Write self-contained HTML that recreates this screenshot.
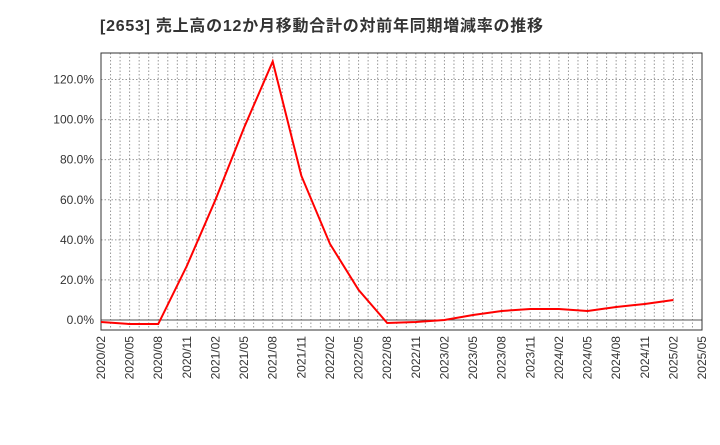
<!DOCTYPE html>
<html><head><meta charset="utf-8"><style>
body{margin:0;background:#fff;width:720px;height:440px;overflow:hidden}
text{font-family:"Liberation Sans","Noto Sans CJK JP",sans-serif}
</style></head><body>
<svg id="c" width="720" height="440">
<text x="100" y="31" font-size="16" font-weight="bold" fill="#333" textLength="443">[2653]  売上高の12か月移動合計の対前年同期増減率の推移</text>
</svg>
<script>
const tickLabels=["2020/02","2020/05","2020/08","2020/11","2021/02","2021/05","2021/08","2021/11","2022/02","2022/05","2022/08","2022/11","2023/02","2023/05","2023/08","2023/11","2024/02","2024/05","2024/08","2024/11","2025/02","2025/05"];
const yTicks=[0,20,40,60,80,100,120];
const values=[-1,-2,-2,27,60,96,129,72,38,15,-1.5,-1,0,2.5,4.5,5.5,5.5,4.5,6.5,8,10];
const L=101,R=702,T=53,B=330;
const x=i=>L+(R-L)*i/63;
const y=v=>320-(v)*(320-79.5)/120;
const s=document.getElementById('c');const NS='http://www.w3.org/2000/svg';
function mk(t,a,p){const e=document.createElementNS(NS,t);for(const k in a)e.setAttribute(k,a[k]);(p||s).appendChild(e);return e;}
for(let m=1;m<63;m++){const g=mk('line',{x1:x(m),x2:x(m),y1:T,y2:B,stroke:'#999','stroke-dasharray':'1.5,2','stroke-width':1});

}
yTicks.forEach(v=>{const g=mk('line',{x1:L,x2:R,y1:y(v),y2:y(v),stroke:'#999','stroke-dasharray':'1.5,2'});


const t=mk('text',{x:L-7,y:y(v)+4,'text-anchor':'end','font-size':12,fill:'#333'});t.textContent=v.toFixed(1)+'%';

});
const z=mk('line',{x1:L,x2:R,y1:y(0),y2:y(0),stroke:'#555'});


const f=mk('rect',{x:L,y:T,width:R-L,height:B-T,fill:'none',stroke:'#333'});


tickLabels.forEach((l,i)=>{const px=x(i*3);const t=mk('text',{x:0,y:0,'font-size':12,fill:'#333','text-anchor':'end',transform:`translate(${px+4},${B+6}) rotate(-90)`});t.textContent=l;

});
const p=mk('polyline',{points:values.map((v,i)=>x(i*3)+','+y(v)).join(' '),fill:'none',stroke:'#f00','stroke-width':2});


</script>
</body></html>
